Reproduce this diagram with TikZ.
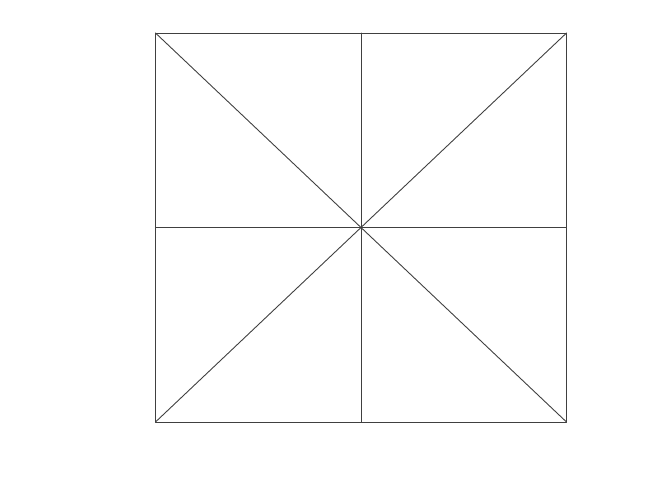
\documentclass[tikz,border=0pt]{standalone}
\usepackage{tikz}
\usetikzlibrary{calc}
\definecolor{qqqqqq}{rgb}{0.25,0.25,0.25}
\begin{document}
\begin{tikzpicture}[line cap=round,line join=round,x=1pt,y=-1pt]
                \useasboundingbox (0,0) rectangle (667,500);
                \coordinate (A) at (155.5,33);
                \coordinate (B) at (566.5,33);
                \coordinate (C) at (566.5,422);
                \coordinate (D) at (155.5,422);
                \coordinate (O) at ($(A)!0.5!(C)$);
                \draw [line width=0.9pt,color=qqqqqq] (A) -- (B) -- (C) -- (D) -- cycle;
                \draw [line width=0.9pt,color=qqqqqq] (A) -- (C);
                \draw [line width=0.9pt,color=qqqqqq] (B) -- (D);
                \draw [line width=0.9pt,color=qqqqqq] ($(A)!0.5!(B)$) -- ($(D)!0.5!(C)$);
                \draw [line width=0.9pt,color=qqqqqq] ($(A)!0.5!(D)$) -- ($(B)!0.5!(C)$);
            \end{tikzpicture}
\end{document}
